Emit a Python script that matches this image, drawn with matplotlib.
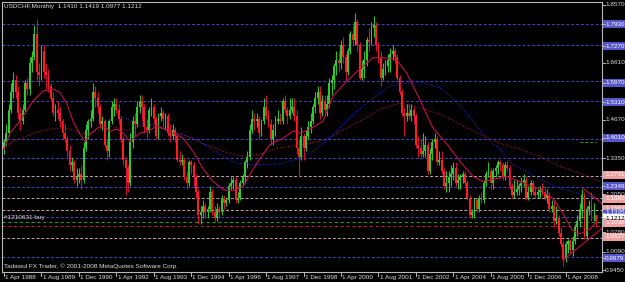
import matplotlib
matplotlib.use("Agg")
import matplotlib.pyplot as plt
from matplotlib.patches import Rectangle

plt.rcParams['font.family'] = ['Liberation Sans', 'DejaVu Sans']

# ---------- data: USDCHF monthly, Apr 1988 .. May 2009 ----------
opens = [
    1.37, 1.39, 1.42, 1.50, 1.56, 1.60, 1.56, 1.49, 1.46,
    1.50, 1.59, 1.57, 1.66, 1.68, 1.76, 1.63, 1.62, 1.70, 1.63, 1.62, 1.58,
    1.54, 1.49, 1.50, 1.49, 1.46, 1.42, 1.40, 1.36, 1.31, 1.32, 1.26, 1.27,
    1.28, 1.26, 1.37, 1.43, 1.46, 1.47, 1.56, 1.54, 1.51, 1.45, 1.46, 1.38,
    1.36, 1.46, 1.51, 1.52, 1.50, 1.47, 1.40, 1.33, 1.30, 1.25, 1.39, 1.46,
    1.45, 1.51, 1.53, 1.51, 1.44, 1.43, 1.50, 1.51, 1.47, 1.41, 1.48, 1.49,
    1.47, 1.48, 1.42, 1.41, 1.43, 1.41, 1.33, 1.32, 1.33, 1.27, 1.25, 1.32,
    1.31, 1.27, 1.22, 1.14, 1.15, 1.17, 1.15, 1.16, 1.22, 1.15, 1.13, 1.16,
    1.15, 1.20, 1.18, 1.19, 1.24, 1.25, 1.26, 1.19, 1.20, 1.25, 1.27, 1.32,
    1.34, 1.43, 1.47, 1.46, 1.47, 1.42, 1.46, 1.51, 1.48, 1.45, 1.40, 1.43,
    1.46, 1.47, 1.46, 1.53, 1.50, 1.48, 1.50, 1.51, 1.48, 1.37, 1.34, 1.41,
    1.37, 1.41, 1.44, 1.46, 1.51, 1.54, 1.56, 1.49, 1.53, 1.50, 1.52, 1.59,
    1.60, 1.65, 1.67, 1.66, 1.72, 1.68, 1.63, 1.70, 1.76, 1.74, 1.80, 1.72,
    1.61, 1.64, 1.67, 1.74, 1.73, 1.78, 1.79, 1.72, 1.68, 1.61, 1.64, 1.65,
    1.67, 1.69, 1.70, 1.68, 1.61, 1.56, 1.49, 1.48, 1.49, 1.48, 1.50, 1.48,
    1.38, 1.37, 1.35, 1.36, 1.38, 1.29, 1.35, 1.39, 1.40, 1.32, 1.33, 1.29,
    1.24, 1.25, 1.27, 1.28, 1.30, 1.25, 1.26, 1.27, 1.28, 1.25, 1.20, 1.14,
    1.15, 1.19, 1.16, 1.20, 1.19, 1.25, 1.28, 1.29, 1.25, 1.29, 1.30, 1.32,
    1.31, 1.27, 1.31, 1.30, 1.24, 1.21, 1.22, 1.23, 1.24, 1.25, 1.26, 1.20,
    1.22, 1.25, 1.22, 1.21, 1.22, 1.23, 1.22, 1.20, 1.21, 1.16, 1.17, 1.12,
    1.13, 1.08, 1.04, 0.99, 1.04, 1.05, 1.02, 1.05, 1.10, 1.12, 1.16, 1.21,
    1.07, 1.16, 1.17, 1.14, 1.1410,
]
closes = [
    1.39, 1.42, 1.50, 1.56, 1.60, 1.56, 1.49, 1.46, 1.50,
    1.59, 1.57, 1.66, 1.68, 1.76, 1.63, 1.62, 1.70, 1.63, 1.62, 1.58, 1.54,
    1.49, 1.50, 1.49, 1.46, 1.42, 1.40, 1.36, 1.31, 1.32, 1.26, 1.27, 1.28,
    1.26, 1.37, 1.43, 1.46, 1.47, 1.56, 1.54, 1.51, 1.45, 1.46, 1.38, 1.36,
    1.46, 1.51, 1.52, 1.50, 1.47, 1.40, 1.33, 1.30, 1.25, 1.39, 1.46, 1.45,
    1.51, 1.53, 1.51, 1.44, 1.43, 1.50, 1.51, 1.47, 1.41, 1.48, 1.49, 1.47,
    1.48, 1.42, 1.41, 1.43, 1.41, 1.33, 1.32, 1.33, 1.27, 1.25, 1.32, 1.31,
    1.27, 1.22, 1.14, 1.15, 1.17, 1.15, 1.16, 1.22, 1.15, 1.13, 1.16, 1.15,
    1.20, 1.18, 1.19, 1.24, 1.25, 1.26, 1.19, 1.20, 1.25, 1.27, 1.32, 1.34,
    1.43, 1.47, 1.46, 1.47, 1.42, 1.46, 1.51, 1.48, 1.45, 1.40, 1.43, 1.46,
    1.47, 1.46, 1.53, 1.50, 1.48, 1.50, 1.51, 1.48, 1.37, 1.34, 1.41, 1.37,
    1.41, 1.44, 1.46, 1.51, 1.54, 1.56, 1.49, 1.53, 1.50, 1.52, 1.59, 1.60,
    1.65, 1.67, 1.66, 1.72, 1.68, 1.63, 1.70, 1.76, 1.74, 1.80, 1.72, 1.61,
    1.64, 1.67, 1.74, 1.73, 1.78, 1.79, 1.72, 1.68, 1.61, 1.64, 1.65, 1.67,
    1.69, 1.70, 1.68, 1.61, 1.56, 1.49, 1.48, 1.49, 1.48, 1.50, 1.48, 1.38,
    1.37, 1.35, 1.36, 1.38, 1.29, 1.35, 1.39, 1.40, 1.32, 1.33, 1.29, 1.24,
    1.25, 1.27, 1.28, 1.30, 1.25, 1.26, 1.27, 1.28, 1.25, 1.20, 1.14, 1.15,
    1.19, 1.16, 1.20, 1.19, 1.25, 1.28, 1.29, 1.25, 1.29, 1.30, 1.32, 1.31,
    1.27, 1.31, 1.30, 1.24, 1.21, 1.22, 1.23, 1.24, 1.25, 1.26, 1.20, 1.22,
    1.25, 1.22, 1.21, 1.22, 1.23, 1.22, 1.20, 1.21, 1.16, 1.17, 1.12, 1.13,
    1.08, 1.04, 0.99, 1.04, 1.05, 1.02, 1.05, 1.10, 1.12, 1.16, 1.21, 1.07,
    1.16, 1.17, 1.14, 1.141, 1.1212,
]
highs = [
    1.40, 1.45, 1.52, 1.59, 1.63, 1.62, 1.58, 1.51, 1.52,
    1.60, 1.61, 1.68, 1.70, 1.79, 1.81, 1.66, 1.72, 1.72, 1.66, 1.64, 1.59,
    1.56, 1.52, 1.53, 1.51, 1.47, 1.45, 1.41, 1.38, 1.34, 1.33, 1.30, 1.30,
    1.31, 1.39, 1.45, 1.47, 1.50, 1.59, 1.58, 1.56, 1.52, 1.48, 1.47, 1.40,
    1.47, 1.53, 1.54, 1.54, 1.52, 1.48, 1.41, 1.34, 1.31, 1.42, 1.48, 1.49,
    1.53, 1.55, 1.55, 1.52, 1.47, 1.51, 1.54, 1.52, 1.48, 1.49, 1.51, 1.50,
    1.49, 1.49, 1.45, 1.45, 1.44, 1.42, 1.36, 1.35, 1.34, 1.29, 1.33, 1.33,
    1.32, 1.28, 1.23, 1.17, 1.19, 1.18, 1.17, 1.24, 1.23, 1.17, 1.18, 1.17,
    1.21, 1.21, 1.20, 1.25, 1.27, 1.27, 1.27, 1.22, 1.26, 1.28, 1.33, 1.36,
    1.45, 1.50, 1.49, 1.49, 1.48, 1.47, 1.54, 1.55, 1.50, 1.47, 1.45, 1.48,
    1.50, 1.49, 1.54, 1.55, 1.51, 1.54, 1.54, 1.54, 1.50, 1.40, 1.44, 1.42,
    1.43, 1.46, 1.49, 1.52, 1.56, 1.58, 1.58, 1.55, 1.55, 1.55, 1.61, 1.62,
    1.66, 1.70, 1.70, 1.74, 1.75, 1.69, 1.71, 1.77, 1.79, 1.83, 1.81, 1.73,
    1.67, 1.70, 1.75, 1.78, 1.80, 1.82, 1.80, 1.73, 1.70, 1.66, 1.67, 1.69,
    1.71, 1.72, 1.71, 1.69, 1.62, 1.57, 1.51, 1.52, 1.52, 1.52, 1.51, 1.49,
    1.41, 1.40, 1.42, 1.41, 1.39, 1.37, 1.40, 1.42, 1.41, 1.36, 1.36, 1.30,
    1.29, 1.29, 1.31, 1.32, 1.32, 1.28, 1.28, 1.29, 1.29, 1.26, 1.21, 1.16,
    1.20, 1.20, 1.21, 1.22, 1.26, 1.29, 1.32, 1.30, 1.30, 1.31, 1.33, 1.33,
    1.32, 1.32, 1.33, 1.31, 1.25, 1.26, 1.26, 1.25, 1.27, 1.28, 1.27, 1.24,
    1.26, 1.26, 1.24, 1.23, 1.24, 1.25, 1.24, 1.23, 1.22, 1.19, 1.19, 1.17,
    1.14, 1.10, 1.05, 1.05, 1.06, 1.06, 1.07, 1.11, 1.14, 1.18, 1.23, 1.22,
    1.17, 1.19, 1.22, 1.18, 1.1419,
]
lows = [
    1.35, 1.38, 1.41, 1.49, 1.54, 1.54, 1.47, 1.43, 1.45,
    1.49, 1.55, 1.55, 1.63, 1.67, 1.60, 1.58, 1.60, 1.61, 1.57, 1.56, 1.53,
    1.48, 1.46, 1.47, 1.44, 1.40, 1.39, 1.34, 1.29, 1.29, 1.25, 1.24, 1.25,
    1.23, 1.25, 1.36, 1.40, 1.44, 1.46, 1.51, 1.49, 1.44, 1.43, 1.37, 1.33,
    1.34, 1.45, 1.48, 1.49, 1.45, 1.39, 1.31, 1.21, 1.22, 1.24, 1.37, 1.41,
    1.44, 1.49, 1.46, 1.42, 1.40, 1.42, 1.48, 1.45, 1.40, 1.40, 1.46, 1.44,
    1.43, 1.41, 1.39, 1.40, 1.39, 1.32, 1.31, 1.31, 1.26, 1.23, 1.24, 1.28,
    1.24, 1.20, 1.11, 1.11, 1.13, 1.13, 1.13, 1.15, 1.14, 1.12, 1.12, 1.13,
    1.14, 1.16, 1.17, 1.18, 1.23, 1.23, 1.18, 1.18, 1.19, 1.24, 1.25, 1.30,
    1.33, 1.42, 1.43, 1.44, 1.40, 1.41, 1.45, 1.47, 1.44, 1.38, 1.38, 1.41,
    1.45, 1.45, 1.45, 1.49, 1.45, 1.47, 1.49, 1.46, 1.35, 1.27, 1.33, 1.33,
    1.36, 1.40, 1.42, 1.45, 1.49, 1.52, 1.47, 1.48, 1.48, 1.48, 1.51, 1.55,
    1.57, 1.62, 1.63, 1.64, 1.66, 1.60, 1.62, 1.69, 1.72, 1.72, 1.70, 1.60,
    1.60, 1.61, 1.65, 1.70, 1.72, 1.75, 1.70, 1.66, 1.58, 1.60, 1.62, 1.63,
    1.63, 1.67, 1.66, 1.60, 1.55, 1.48, 1.41, 1.46, 1.47, 1.46, 1.45, 1.37,
    1.34, 1.34, 1.34, 1.34, 1.28, 1.28, 1.33, 1.37, 1.31, 1.31, 1.28, 1.23,
    1.22, 1.22, 1.24, 1.26, 1.24, 1.23, 1.23, 1.25, 1.24, 1.19, 1.13, 1.13,
    1.13, 1.15, 1.15, 1.18, 1.18, 1.24, 1.27, 1.23, 1.23, 1.27, 1.28, 1.29,
    1.26, 1.26, 1.29, 1.23, 1.20, 1.20, 1.21, 1.21, 1.22, 1.24, 1.19, 1.19,
    1.21, 1.21, 1.20, 1.20, 1.20, 1.21, 1.19, 1.18, 1.15, 1.15, 1.10, 1.11,
    1.07, 1.03, 0.965, 0.98, 1.01, 1.01, 1.00, 1.04, 1.07, 1.10, 1.13, 1.06,
    1.06, 1.14, 1.12, 1.12, 1.0977,
]

# moving averages (bar index, price)
ma_fast_idx = [0, 2.6, 6.8, 12.4, 16.7, 20.9, 23.9, 26.9, 29.5, 32.5, 34.6, 36.8, 39.7, 42.3, 45.3,
               48.3, 50.9, 53.8, 58.1, 61.5, 65.4, 70.9, 76.5, 80.8, 85, 89.3, 93.6, 97.9, 102.1, 105.1,
               109.4, 113.7, 119.2, 123.5, 126.5, 130.8, 136.3, 140.6, 146.6, 152.1, 157.7, 161.5, 165,
               168, 172.2, 176.5, 183.3, 189.3, 194.9, 200.4, 204.7, 210.7, 215, 220.5, 229, 234.6, 239,
               242.7, 246.2, 250.4, 253.4]
ma_fast_val = [1.365, 1.421, 1.461, 1.530, 1.564, 1.571, 1.559, 1.520, 1.461, 1.416, 1.392, 1.416, 1.437,
               1.444, 1.427, 1.434, 1.420, 1.392, 1.420, 1.427, 1.444, 1.427, 1.403, 1.358, 1.299, 1.255,
               1.227, 1.224, 1.237, 1.279, 1.334, 1.382, 1.403, 1.427, 1.420, 1.434, 1.461, 1.547, 1.599,
               1.640, 1.678, 1.678, 1.675, 1.668, 1.623, 1.554, 1.437, 1.382, 1.323, 1.272, 1.255, 1.265,
               1.272, 1.255, 1.227, 1.196, 1.144, 1.089, 1.076, 1.093, 1.120]
ma_mid_idx = [0, 3.8, 9.8, 15.4, 19.7, 23.9, 28.2, 32.5, 36.8, 41, 45.3, 49.6, 52.6, 55.1, 61.1, 66.7,
              76.5, 85, 93.6, 102.1, 109.4, 116.7, 122.2, 130.8, 139.3, 143.6, 152.1, 160.7, 169.2, 177.8,
              186.3, 194.9, 203.4, 212, 220.5, 229, 237.6, 246.2, 254.7]
ma_mid_val = [1.365, 1.392, 1.410, 1.427, 1.434, 1.437, 1.434, 1.420, 1.420, 1.434, 1.444, 1.437, 1.427,
              1.437, 1.451, 1.437, 1.416, 1.385, 1.358, 1.341, 1.348, 1.368, 1.375, 1.385, 1.403, 1.427,
              1.461, 1.502, 1.523, 1.506, 1.485, 1.451, 1.416, 1.385, 1.365, 1.341, 1.306, 1.282, 1.255]
ma_slow_idx = [47.4, 52.6, 58.1, 63.7, 73.9, 80.8, 88, 95.3, 99.6, 105.1, 112.4, 119.2, 126.5, 133.8,
               140.6, 150.9, 157.7, 165, 172.2, 179.1, 186.3, 193.2, 200.4, 206.4, 212, 217.5, 223.5,
               229, 237.6, 246.2, 254.7]
ma_slow_val = [1.482, 1.468, 1.454, 1.451, 1.420, 1.403, 1.368, 1.334, 1.317, 1.313, 1.313, 1.317, 1.334,
               1.368, 1.416, 1.496, 1.540, 1.582, 1.592, 1.592, 1.575, 1.530, 1.461, 1.399, 1.365, 1.313,
               1.289, 1.262, 1.231, 1.213, 1.193]

# trend lines (bar index, price)
tl_up = ([238.7, 255.4], [0.985, 1.094])
tl_down = ([247.4, 255.4], [1.232, 1.180])

date_pos = [0, 16, 32, 48, 64, 80, 96, 112, 128, 144, 160, 176, 192, 208, 224, 240]
date_labels = ["1 Apr 1988", "1 Aug 1989", "1 Dec 1990", "1 Apr 1992", "1 Aug 1993", "1 Dec 1994",
               "1 Apr 1996", "1 Aug 1997", "1 Dec 1998", "1 Apr 2000", "1 Aug 2001", "1 Dec 2002",
               "1 Apr 2004", "1 Aug 2005", "1 Dec 2006", "1 Apr 2008"]

# horizontal objects
blue_levels = [1.7930, 1.7200, 1.5970, 1.5310, 1.4010, 1.3350, 1.2349, 1.1335, 0.9979]
pink_levels = [1.2731, 1.1980, 1.1561, 1.0627]
buy_level = 1.1150
sl_level = 1.1038
tp_level = 1.3900
bid = 1.1212

# right scale labels: text, kind (tick / blue / pink / bid)
scale_text = ["1.8570", "1.7930", "1.7270", "1.6610", "1.5970", "1.5310", "1.4670", "1.4010", "1.3350",
              "1.2731", "1.2349", "1.2050", "1.1980", "1.1561", "1.1335", "1.1212", "1.1038", "1.0780",
              "1.0627", "1.0090", "0.9979", "0.9450"]
scale_kind = ["tick", "blue", "blue", "tick", "blue", "blue", "tick", "blue", "tick",
              "pink", "blue", "tick", "pink", "pink", "blue", "bid", "pink", "tick",
              "pink", "tick", "blue", "tick"]
# pixel rows where the terminal put each label (they get nudged apart when crowded)
scale_row = [5, 24, 46, 63, 83, 102, 120, 138, 158, 175, 186, 194, 199, 209, 213, 218, 223, 232,
             237, 251.5, 258, 270]

# ---------- figure ----------
W, H = 625, 282
fig = plt.figure(figsize=(W / 100, H / 100), dpi=100)
fig.patch.set_facecolor("black")
ax = fig.add_axes([2 / W, 10 / H, 600 / W, 270 / H])
ax.set_facecolor("black")
ax.set_xlim(-0.85, 255.5)
ax.set_ylim(0.9456, 1.8682)
ax.set_xticks([]); ax.set_yticks([])
for s in ax.spines.values():
    s.set_color("#b8b8b8"); s.set_linewidth(0.8)

FS = 4.6
TXT = "#dcdcdc"

# level lines
for p in blue_levels:
    ax.axhline(p, color="#4848b8", lw=0.7, ls=(0, (3, 2)), zorder=1)
for p in pink_levels:
    ax.axhline(p, color="#c8a2a6", lw=0.7, ls=(0, (3, 2)), zorder=1)
ax.axhline(buy_level, color="#1fae1f", lw=0.7, ls=(0, (3, 3)), zorder=1)
ax.axhline(sl_level, color="#d0203c", lw=0.7, ls=(0, (3, 3)), zorder=1)
ax.plot([246, 253], [tp_level, tp_level], color="#1fae1f", lw=0.7, ls=(0, (3, 2)), zorder=1)

# moving averages
ax.plot(ma_mid_idx, ma_mid_val, color="#a01838", lw=0.8, ls=(0, (1, 1.5)), zorder=2)
ax.plot(ma_slow_idx, ma_slow_val, color="#2424d8", lw=0.8, ls=(0, (1, 1.5)), zorder=2)

# candles
for i in range(len(closes)):
    o, h, l, c = opens[i], highs[i], lows[i], closes[i]
    up = c >= o
    wick = "#2fbf2f" if up else "#d0103c"
    body = "#33c633" if up else "#ff1e1e"
    ax.vlines(i, l, h, color=wick, lw=0.8, zorder=3)
    ax.bar(i, max(abs(c - o), 0.002), bottom=min(o, c), width=0.8, color=body, lw=0, zorder=4)

ax.plot(ma_fast_idx, ma_fast_val, color="#c0104c", lw=0.8, zorder=5)
ax.plot(*tl_up, color="#c0104c", lw=0.8, zorder=5)
ax.plot(*tl_down, color="#c0104c", lw=0.8, zorder=5)

# right price scale
box_fc = {"blue": "#5656c8", "pink": "#eea0a0", "bid": "white"}
txt_c = {"tick": TXT, "blue": "white", "pink": "white", "bid": "black"}
for t, k, r in zip(scale_text, scale_kind, scale_row):
    yf = 1 - r / H
    fig.add_artist(plt.Line2D([602 / W, 605 / W], [yf, yf], color="#b8b8b8", lw=0.7))
    if k in box_fc:
        fig.add_artist(Rectangle((603 / W, yf - 3.6 / H), 22 / W, 7.2 / H, fc=box_fc[k], ec="none",
                                 transform=fig.transFigure))
    fig.text(605 / W, yf, t, fontsize=FS, color=txt_c[k], va="center", ha="left")

# bottom time scale
xtr = ax.get_xaxis_transform()
for pos, lab in zip(date_pos, date_labels):
    ax.plot([pos, pos], [0, -0.014], color="#b8b8b8", lw=0.7, transform=xtr, clip_on=False)
    ax.text(pos + 0.5, -0.021, lab, transform=xtr, va="center", ha="left", fontsize=FS, color=TXT,
            clip_on=False)

fig.text(4 / W, 1 - 6.5 / H, "USDCHF,Monthly  1.1410 1.1419 1.0977 1.1212", fontsize=FS, color=TXT,
         va="center", ha="left")
fig.text(4 / W, 1 - 218 / H, "#1210631 buy", fontsize=FS, color=TXT, va="center", ha="left")
fig.text(4 / W, 1 - 266 / H, "Tadawul FX Trader, \u00a9 2001-2008 MetaQuotes Software Corp.", fontsize=FS,
         color=TXT, va="center", ha="left")

fig.savefig("out.png", dpi=100, facecolor="black")
